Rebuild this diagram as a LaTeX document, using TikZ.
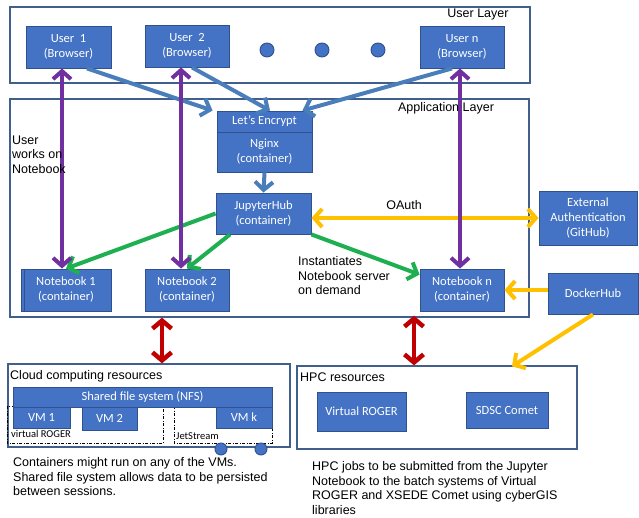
\documentclass[tikz,border=0pt]{standalone}
\usepackage{fontspec}
\setmainfont{Liberation Sans}
\newfontfamily\calfont{Carlito}
\usetikzlibrary{arrows.meta}
\definecolor{boxfill}{HTML}{4472C4}
\definecolor{boxborder}{HTML}{2F528F}
\definecolor{frame}{RGB}{65,95,140}
\definecolor{bluearr}{RGB}{74,126,187}
\definecolor{purp}{HTML}{7030A0}
\definecolor{grn}{RGB}{30,176,80}
\definecolor{orng}{HTML}{FFC000}
\definecolor{redarr}{HTML}{C00000}
\begin{document}
\begin{tikzpicture}[x=1pt,y=-1pt,
  bx/.style={draw=boxborder, fill=boxfill, line width=0.9pt, text=white,
    font=\calfont\fontsize{12.5}{15}\selectfont, align=center, inner sep=0pt},
  layer/.style={draw=frame, line width=1.3pt, inner sep=0pt},
  lbl/.style={font=\fontsize{12.5}{14.5}\selectfont, inner sep=0pt},
  small/.style={font=\calfont\fontsize{10.5}{12}\selectfont, inner sep=0pt},
  dot/.style={circle, draw=boxborder, fill=boxfill, line width=0.9pt, inner sep=0pt},
  dashbox/.style={draw=black, line width=0.7pt, dash pattern=on 3pt off 1.5pt on 1pt off 1.5pt},
  barb/.style={-{Straight Barb[length=8pt,width=18pt]}},
  dbarb/.style={{Straight Barb[length=8pt,width=18pt]}-{Straight Barb[length=8pt,width=18pt]}},
  blu/.style={draw=bluearr, line width=4pt, barb},
  pur/.style={draw=purp, line width=4pt, dbarb},
  gre/.style={draw=grn, line width=4pt, barb},
  ora/.style={draw=orng, line width=4pt},
  rd/.style={draw=redarr, line width=4.5pt, {Straight Barb[length=8pt,width=19pt]}-{Straight Barb[length=8pt,width=19pt]}}
]
\useasboundingbox (0,0) rectangle (639,518);
\fill[white] (0,0) rectangle (639,518);

% layers
\node[layer, minimum width=520, minimum height=76] (ul) at (270,45) {};
\node[layer, minimum width=519, minimum height=218] (app) at (269.5,208) {};
\node[layer, minimum width=282, minimum height=83] (cloud) at (149,405.5) {};
\node[layer, minimum width=280, minimum height=83] (hpc) at (437,407.5) {};

% user layer
\node[bx, minimum width=85, minimum height=42] (u1) at (68.5,47) {User~~1\\(Browser)};
\node[bx, minimum width=84, minimum height=42] (u2) at (187,46) {User~~2\\(Browser)};
\node[bx, minimum width=84, minimum height=42] (un) at (462,47) {User n\\(Browser)};
\node[dot, minimum size=14] (d1) at (267,50) {};
\node[dot, minimum size=14] (d2) at (322,50) {};
\node[dot, minimum size=14] (d3) at (378,50) {};

% application layer
\node[bx, minimum width=95, minimum height=21] (le) at (264.5,121.5) {Let’s Encrypt};
\node[bx, minimum width=95, minimum height=40] (ng) at (264.5,152) {Nginx\\(container)};
\node[bx, minimum width=95, minimum height=41] (jh) at (263.5,213.5) {JupyterHub\\(container)};
\node[bx, minimum width=90, minimum height=42] (nb1) at (66,290) {Notebook 1\\(container)};
\draw[boxborder, line width=0.9pt] ([xshift=4pt]nb1.north west) -- ([xshift=4pt]nb1.south west);
\node[bx, minimum width=84, minimum height=42] (nb2) at (187,290) {Notebook 2\\(container)};
\node[bx, minimum width=84, minimum height=42] (nbn) at (462,290) {Notebook n\\(container)};
\node[bx, minimum width=98, minimum height=54] (ext) at (588,218) {External\\Authentication\\(GitHub)};
\node[bx, minimum width=90, minimum height=41] (dh) at (593,293.5) {DockerHub};

% cloud resources
\draw[dashbox] (7,406) rectangle (163,443);
\draw[dashbox] (174,406) rectangle (272,443);
\node[bx, minimum width=259, minimum height=20] (nfs) at (142.5,397) {Shared file system (NFS)};
\node[bx, minimum width=57, minimum height=21] (vm1) at (41.5,417.5) {VM 1};
\node[bx, minimum width=55, minimum height=23] (vm2) at (109.5,418.5) {VM 2};
\node[bx, minimum width=56, minimum height=21] (vmk) at (244,417.5) {VM k};
\node[small, anchor=west, text=black] (vrlbl) at (11,434) {virtual ROGER};
\node[small, anchor=west, text=black] (jslbl) at (176,436) {JetStream};
\node[dot, minimum size=12] (c1) at (221,449) {};
\node[dot, minimum size=12] (c2) at (261,449) {};

% hpc resources
\node[bx, minimum width=89, minimum height=39] (vr) at (361.5,411.5) {Virtual ROGER};
\node[bx, minimum width=82, minimum height=36] (sc) at (507,410) {SDSC Comet};

% blue arrows
\draw[blu] ([xshift=18.5pt]u1.south) -- ([xshift=-4pt]le.north west);
\draw[blu] ([xshift=5pt]u2.south) -- ([xshift=5.5pt]le.north);
\draw[blu] ([xshift=-10pt]un.south) -- ([xshift=-10pt]le.north east);
\draw[blu] (ng.south) -- (jh.north);

% green arrows
\draw[gre] (jh.west) -- (nb1.north);
\draw[gre] ([xshift=-33.5pt]jh.south) -- (nb2.north);
\draw[gre] (jh.south east) -- ([yshift=-6pt]nbn.north west);

% orange arrows
\draw[ora, dbarb] (jh.east |- ext.west) -- (ext.west);
\draw[ora, barb] (dh.west |- nbn.east) -- (nbn.east);
\draw[ora, barb] (dh.south) -- ([xshift=75pt,yshift=-1pt]hpc.north);

% purple arrows
\draw[pur] ([xshift=-6.5pt]u1.south) -- ([xshift=-4pt]nb1.north);
\draw[pur] ([xshift=-6pt]u2.south) -- ([xshift=-6pt]nb2.north);
\draw[pur] ([xshift=-2pt]un.south) -- ([xshift=-2pt]nbn.north);

% red arrows
\draw[rd] ([xshift=-107.5pt]app.south) -- ([xshift=13pt]cloud.north);
\draw[rd] ([xshift=144.5pt,yshift=2pt]app.south) -- ([xshift=-23pt]hpc.north);

% labels
\node[lbl] (ullbl) at (478,15) {User Layer};
\node[lbl] (applbl) at (446,108) {Application Layer};
\node[lbl, anchor=west] (cloudlbl) at (10,376) {Cloud computing resources};
\node[lbl, anchor=west] (hpclbl) at (300,377) {HPC resources};
\node[lbl, anchor=north west, align=left] (uwn) at (12,135.5) {User\\works on\\Notebook};
\node[lbl, anchor=north west, align=left] (inst) at (298,256.5) {Instantiates\\Notebook server\\on demand};
\node[lbl] (oauth) at (404,205) {OAuth};
\node[lbl, anchor=north west, align=left] (cloudtxt) at (13,457.5) {Containers might run on any of the VMs.\\Shared file system allows data to be persisted\\between sessions.};
\node[lbl, anchor=north west, align=left] (hpctxt) at (312,461.5) {HPC jobs to be submitted from the Jupyter\\Notebook to the batch systems of Virtual\\ROGER and XSEDE Comet using cyberGIS\\libraries};
\end{tikzpicture}
\end{document}
